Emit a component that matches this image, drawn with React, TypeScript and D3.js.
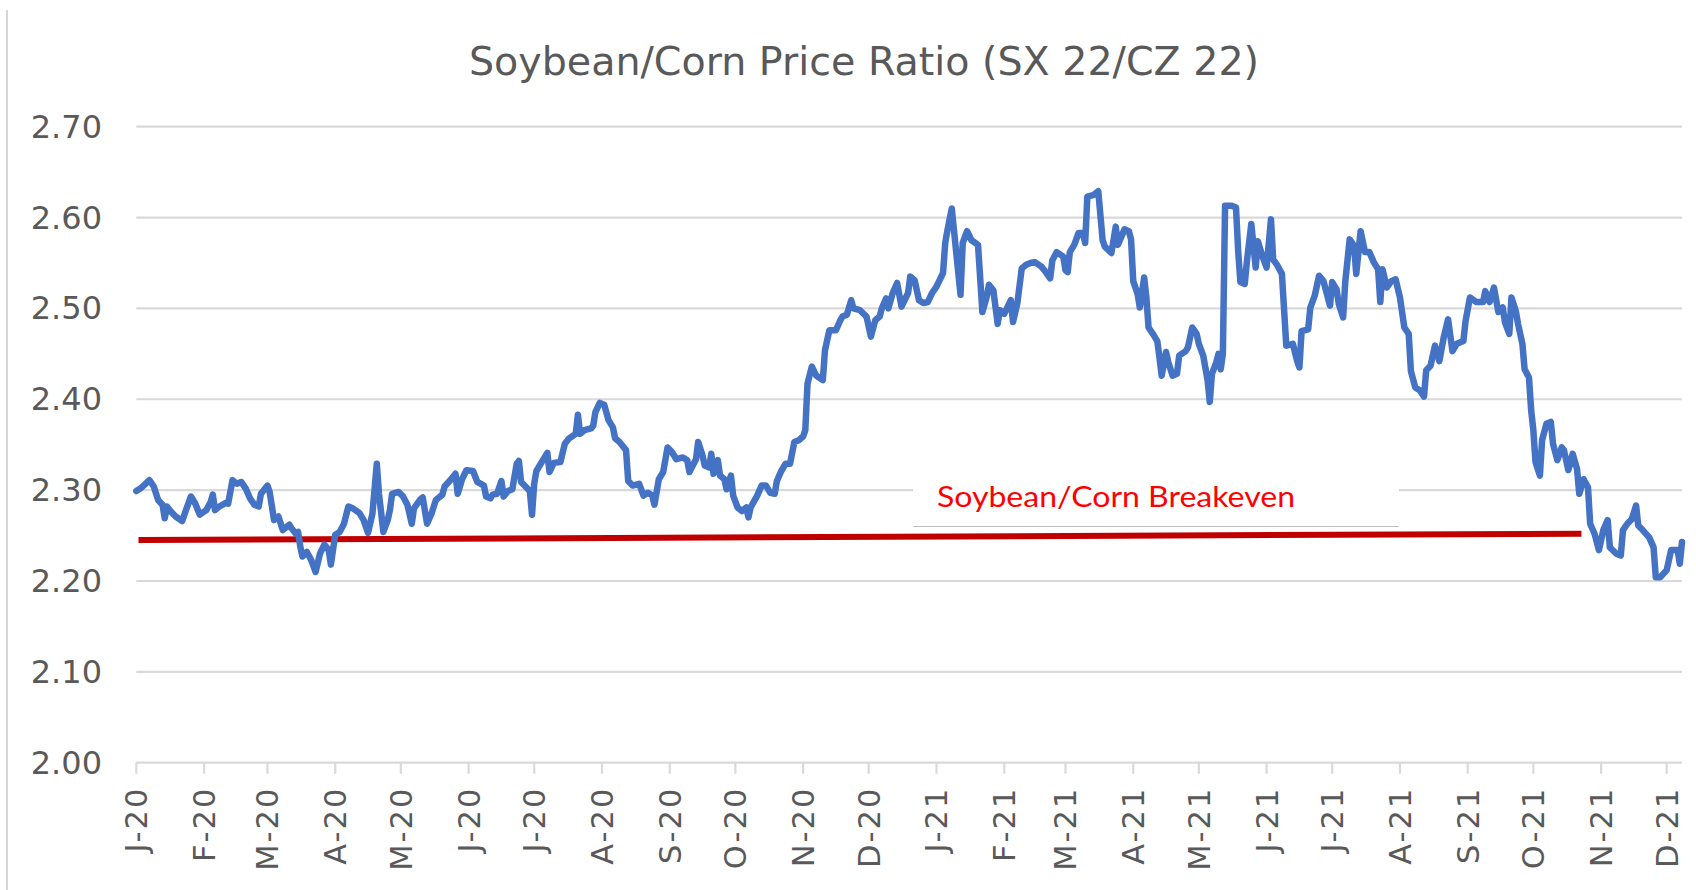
import * as React from "react";
import * as d3 from "d3";

// SX22 / CZ22 ratio
const ratioSeries: [string, number][] = [
  ["2020-01-01", 2.299], ["2020-01-03", 2.302], ["2020-01-07", 2.311], ["2020-01-09", 2.304],
  ["2020-01-11", 2.289], ["2020-01-13", 2.284], ["2020-01-14", 2.269], ["2020-01-15", 2.282],
  ["2020-01-17", 2.276], ["2020-01-19", 2.271], ["2020-01-22", 2.266], ["2020-01-24", 2.28],
  ["2020-01-26", 2.293], ["2020-01-28", 2.285], ["2020-01-30", 2.273], ["2020-02-02", 2.278],
  ["2020-02-04", 2.287], ["2020-02-05", 2.295], ["2020-02-06", 2.278], ["2020-02-08", 2.282],
  ["2020-02-11", 2.286], ["2020-02-12", 2.285], ["2020-02-14", 2.311], ["2020-02-16", 2.307],
  ["2020-02-18", 2.309], ["2020-02-20", 2.302], ["2020-02-22", 2.291], ["2020-02-24", 2.284],
  ["2020-02-26", 2.282], ["2020-02-27", 2.296], ["2020-03-01", 2.305], ["2020-03-02", 2.298],
  ["2020-03-04", 2.267], ["2020-03-06", 2.271], ["2020-03-08", 2.256], ["2020-03-11", 2.262],
  ["2020-03-12", 2.258], ["2020-03-14", 2.252], ["2020-03-15", 2.254], ["2020-03-16", 2.238],
  ["2020-03-17", 2.227], ["2020-03-19", 2.232], ["2020-03-21", 2.223], ["2020-03-23", 2.21],
  ["2020-03-25", 2.23], ["2020-03-27", 2.24], ["2020-03-29", 2.234], ["2020-03-30", 2.218],
  ["2020-04-01", 2.251], ["2020-04-03", 2.254], ["2020-04-05", 2.263], ["2020-04-07", 2.282],
  ["2020-04-09", 2.28], ["2020-04-12", 2.275], ["2020-04-14", 2.267], ["2020-04-16", 2.253],
  ["2020-04-18", 2.274], ["2020-04-20", 2.329], ["2020-04-21", 2.296], ["2020-04-23", 2.254],
  ["2020-04-25", 2.267], ["2020-04-26", 2.278], ["2020-04-27", 2.296], ["2020-04-30", 2.298],
  ["2020-05-02", 2.293], ["2020-05-04", 2.284], ["2020-05-06", 2.263], ["2020-05-07", 2.28],
  ["2020-05-10", 2.29], ["2020-05-11", 2.292], ["2020-05-13", 2.263], ["2020-05-15", 2.274],
  ["2020-05-17", 2.289], ["2020-05-20", 2.295], ["2020-05-21", 2.304], ["2020-05-24", 2.312],
  ["2020-05-26", 2.318], ["2020-05-27", 2.296], ["2020-05-29", 2.312], ["2020-05-31", 2.322],
  ["2020-06-03", 2.321], ["2020-06-05", 2.309], ["2020-06-08", 2.305], ["2020-06-09", 2.293],
  ["2020-06-11", 2.291], ["2020-06-12", 2.295], ["2020-06-14", 2.296], ["2020-06-16", 2.31],
  ["2020-06-17", 2.293], ["2020-06-19", 2.299], ["2020-06-21", 2.301], ["2020-06-23", 2.329],
  ["2020-06-24", 2.332], ["2020-06-25", 2.309], ["2020-06-27", 2.304], ["2020-06-29", 2.299],
  ["2020-06-30", 2.273], ["2020-07-01", 2.307], ["2020-07-02", 2.321], ["2020-07-04", 2.329],
  ["2020-07-07", 2.341], ["2020-07-08", 2.32], ["2020-07-10", 2.33], ["2020-07-13", 2.331],
  ["2020-07-15", 2.351], ["2020-07-17", 2.357], ["2020-07-20", 2.362], ["2020-07-21", 2.383],
  ["2020-07-22", 2.362], ["2020-07-24", 2.366], ["2020-07-27", 2.368], ["2020-07-28", 2.371],
  ["2020-07-29", 2.386], ["2020-07-31", 2.396], ["2020-08-02", 2.394], ["2020-08-04", 2.377],
  ["2020-08-06", 2.369], ["2020-08-07", 2.357], ["2020-08-09", 2.353], ["2020-08-12", 2.344],
  ["2020-08-13", 2.31], ["2020-08-15", 2.305], ["2020-08-18", 2.307], ["2020-08-20", 2.294],
  ["2020-08-22", 2.297], ["2020-08-24", 2.294], ["2020-08-25", 2.284], ["2020-08-27", 2.312],
  ["2020-08-29", 2.32], ["2020-08-31", 2.347], ["2020-09-02", 2.342], ["2020-09-04", 2.334],
  ["2020-09-07", 2.336], ["2020-09-09", 2.333], ["2020-09-10", 2.32], ["2020-09-13", 2.334],
  ["2020-09-14", 2.353], ["2020-09-16", 2.338], ["2020-09-17", 2.327], ["2020-09-19", 2.325],
  ["2020-09-20", 2.34], ["2020-09-21", 2.318], ["2020-09-23", 2.333], ["2020-09-24", 2.316],
  ["2020-09-26", 2.312], ["2020-09-27", 2.301], ["2020-09-29", 2.316], ["2020-09-30", 2.294],
  ["2020-10-02", 2.281], ["2020-10-04", 2.277], ["2020-10-06", 2.281], ["2020-10-07", 2.27],
  ["2020-10-08", 2.281], ["2020-10-11", 2.294], ["2020-10-13", 2.305], ["2020-10-15", 2.305],
  ["2020-10-17", 2.297], ["2020-10-19", 2.296], ["2020-10-20", 2.31], ["2020-10-22", 2.321],
  ["2020-10-24", 2.329], ["2020-10-26", 2.329], ["2020-10-28", 2.353], ["2020-10-30", 2.355],
  ["2020-11-01", 2.359], ["2020-11-02", 2.366], ["2020-11-03", 2.417], ["2020-11-05", 2.436],
  ["2020-11-07", 2.426], ["2020-11-10", 2.421], ["2020-11-11", 2.454], ["2020-11-13", 2.476],
  ["2020-11-16", 2.476], ["2020-11-18", 2.487], ["2020-11-19", 2.491], ["2020-11-21", 2.493],
  ["2020-11-23", 2.509], ["2020-11-24", 2.5], ["2020-11-27", 2.498], ["2020-11-30", 2.491],
  ["2020-12-02", 2.469], ["2020-12-04", 2.487], ["2020-12-06", 2.491], ["2020-12-07", 2.5],
  ["2020-12-09", 2.511], ["2020-12-10", 2.5], ["2020-12-12", 2.517], ["2020-12-14", 2.528],
  ["2020-12-16", 2.502], ["2020-12-19", 2.517], ["2020-12-20", 2.535], ["2020-12-22", 2.531],
  ["2020-12-24", 2.509], ["2020-12-26", 2.506], ["2020-12-28", 2.507], ["2020-12-30", 2.517],
  ["2021-01-01", 2.524], ["2021-01-04", 2.539], ["2021-01-05", 2.572], ["2021-01-06", 2.586],
  ["2021-01-08", 2.61], ["2021-01-09", 2.586], ["2021-01-12", 2.515], ["2021-01-13", 2.572],
  ["2021-01-15", 2.585], ["2021-01-17", 2.575], ["2021-01-20", 2.57], ["2021-01-22", 2.496],
  ["2021-01-24", 2.513], ["2021-01-25", 2.526], ["2021-01-27", 2.52], ["2021-01-29", 2.483],
  ["2021-01-30", 2.498], ["2021-02-01", 2.494], ["2021-02-04", 2.509], ["2021-02-05", 2.485],
  ["2021-02-07", 2.506], ["2021-02-09", 2.544], ["2021-02-11", 2.548], ["2021-02-13", 2.55],
  ["2021-02-15", 2.551], ["2021-02-18", 2.546], ["2021-02-20", 2.54], ["2021-02-22", 2.533],
  ["2021-02-23", 2.553], ["2021-02-25", 2.562], ["2021-02-28", 2.557], ["2021-03-01", 2.542],
  ["2021-03-02", 2.54], ["2021-03-03", 2.562], ["2021-03-05", 2.57], ["2021-03-07", 2.583],
  ["2021-03-09", 2.583], ["2021-03-10", 2.572], ["2021-03-11", 2.623], ["2021-03-14", 2.625],
  ["2021-03-16", 2.629], ["2021-03-18", 2.575], ["2021-03-19", 2.568], ["2021-03-22", 2.561],
  ["2021-03-24", 2.59], ["2021-03-25", 2.57], ["2021-03-28", 2.587], ["2021-03-30", 2.585],
  ["2021-03-31", 2.576], ["2021-04-01", 2.53], ["2021-04-03", 2.516], ["2021-04-04", 2.501],
  ["2021-04-06", 2.534], ["2021-04-07", 2.512], ["2021-04-08", 2.479], ["2021-04-10", 2.472],
  ["2021-04-12", 2.464], ["2021-04-13", 2.446], ["2021-04-14", 2.426], ["2021-04-16", 2.452],
  ["2021-04-17", 2.441], ["2021-04-19", 2.426], ["2021-04-21", 2.428], ["2021-04-22", 2.448],
  ["2021-04-25", 2.453], ["2021-04-26", 2.457], ["2021-04-28", 2.479], ["2021-04-30", 2.472],
  ["2021-05-01", 2.461], ["2021-05-03", 2.448], ["2021-05-05", 2.421], ["2021-05-06", 2.397],
  ["2021-05-07", 2.428], ["2021-05-09", 2.441], ["2021-05-10", 2.45], ["2021-05-11", 2.433],
  ["2021-05-12", 2.45], ["2021-05-13", 2.613], ["2021-05-16", 2.613], ["2021-05-18", 2.611],
  ["2021-05-19", 2.563], ["2021-05-20", 2.529], ["2021-05-22", 2.527], ["2021-05-23", 2.552],
  ["2021-05-25", 2.593], ["2021-05-27", 2.545], ["2021-05-28", 2.574], ["2021-05-30", 2.558],
  ["2021-06-01", 2.545], ["2021-06-03", 2.598], ["2021-06-04", 2.554], ["2021-06-06", 2.547],
  ["2021-06-08", 2.538], ["2021-06-10", 2.459], ["2021-06-13", 2.461], ["2021-06-15", 2.442],
  ["2021-06-16", 2.435], ["2021-06-17", 2.475], ["2021-06-20", 2.477], ["2021-06-21", 2.501],
  ["2021-06-23", 2.514], ["2021-06-25", 2.536], ["2021-06-27", 2.53], ["2021-06-30", 2.503],
  ["2021-07-01", 2.529], ["2021-07-03", 2.521], ["2021-07-04", 2.505], ["2021-07-06", 2.49],
  ["2021-07-07", 2.53], ["2021-07-09", 2.576], ["2021-07-11", 2.569], ["2021-07-12", 2.538],
  ["2021-07-14", 2.585], ["2021-07-16", 2.562], ["2021-07-18", 2.562], ["2021-07-20", 2.551],
  ["2021-07-22", 2.543], ["2021-07-23", 2.507], ["2021-07-24", 2.543], ["2021-07-26", 2.523],
  ["2021-07-28", 2.53], ["2021-07-30", 2.532], ["2021-08-01", 2.512], ["2021-08-03", 2.479],
  ["2021-08-05", 2.472], ["2021-08-06", 2.431], ["2021-08-08", 2.413], ["2021-08-10", 2.41],
  ["2021-08-12", 2.403], ["2021-08-13", 2.432], ["2021-08-15", 2.437], ["2021-08-17", 2.459],
  ["2021-08-19", 2.442], ["2021-08-21", 2.468], ["2021-08-23", 2.488], ["2021-08-25", 2.453],
  ["2021-08-27", 2.461], ["2021-08-30", 2.464], ["2021-08-31", 2.486], ["2021-09-02", 2.512],
  ["2021-09-05", 2.507], ["2021-09-08", 2.507], ["2021-09-09", 2.519], ["2021-09-11", 2.507],
  ["2021-09-13", 2.523], ["2021-09-15", 2.496], ["2021-09-17", 2.501], ["2021-09-18", 2.485],
  ["2021-09-20", 2.472], ["2021-09-21", 2.512], ["2021-09-23", 2.497], ["2021-09-24", 2.483],
  ["2021-09-26", 2.461], ["2021-09-27", 2.433], ["2021-09-29", 2.424], ["2021-09-30", 2.388],
  ["2021-10-01", 2.366], ["2021-10-02", 2.331], ["2021-10-04", 2.316], ["2021-10-05", 2.355],
  ["2021-10-07", 2.373], ["2021-10-09", 2.375], ["2021-10-10", 2.351], ["2021-10-12", 2.333],
  ["2021-10-14", 2.347], ["2021-10-15", 2.344], ["2021-10-17", 2.322], ["2021-10-19", 2.34],
  ["2021-10-21", 2.323], ["2021-10-22", 2.296], ["2021-10-24", 2.312], ["2021-10-26", 2.303],
  ["2021-10-27", 2.263], ["2021-10-29", 2.252], ["2021-10-31", 2.234], ["2021-11-02", 2.256],
  ["2021-11-04", 2.267], ["2021-11-05", 2.237], ["2021-11-08", 2.23], ["2021-11-10", 2.228],
  ["2021-11-11", 2.256], ["2021-11-13", 2.263], ["2021-11-15", 2.268], ["2021-11-17", 2.283],
  ["2021-11-18", 2.261], ["2021-11-20", 2.256], ["2021-11-23", 2.248], ["2021-11-25", 2.237],
  ["2021-11-26", 2.204], ["2021-11-28", 2.204], ["2021-12-01", 2.212], ["2021-12-03", 2.234],
  ["2021-12-06", 2.234], ["2021-12-07", 2.219], ["2021-12-08", 2.243],
];

const breakevenSeries: [string, number][] = [
  ["2020-01-02", 2.245],
  ["2021-10-23", 2.252],
];

const dateDomain = ["2020-01-01", "2021-12-08"];
const yTicks = [2.0, 2.1, 2.2, 2.3, 2.4, 2.5, 2.6, 2.7];
const chartTitle = "Soybean/Corn Price Ratio (SX 22/CZ 22)";
const breakevenLabel = "Soybean/Corn Breakeven";

const W = 1696;
const H = 890;
const margin = { top: 126.7, right: 14, bottom: 127.3, left: 136.3 };

const App: React.FunctionComponent = () => {
  const ref = React.useRef<SVGSVGElement>(null);

  React.useEffect(() => {
    const parse = d3.utcParse("%Y-%m-%d");
    const svg = d3.select(ref.current);
    svg.selectAll("*").remove();

    const x = d3
      .scaleUtc()
      .domain(dateDomain.map(d => parse(d) as Date))
      .range([margin.left, W - margin.right]);
    const y = d3
      .scaleLinear()
      .domain([2.0, 2.7])
      .range([H - margin.bottom, margin.top]);

    svg.append("rect").attr("width", W).attr("height", H).attr("fill", "#fff");

    // left frame edge
    svg
      .append("line")
      .attr("x1", 7)
      .attr("x2", 7)
      .attr("y1", 10)
      .attr("y2", H)
      .attr("stroke", "#c8c8c8")
      .attr("stroke-width", 1.5);

    svg
      .append("text")
      .attr("x", 469)
      .attr("y", 75)
      .attr("textLength", 790)
      .attr("lengthAdjust", "spacingAndGlyphs")
      .attr("font-family", "'DejaVu Sans', sans-serif")
      .attr("font-size", 39.5)
      .attr("fill", "#595959")
      .text(chartTitle);

    // gridlines + y labels
    const yAxis = svg.append("g");
    yAxis
      .selectAll("line")
      .data(yTicks)
      .enter()
      .append("line")
      .attr("x1", margin.left)
      .attr("x2", W - margin.right)
      .attr("y1", d => y(d))
      .attr("y2", d => y(d))
      .attr("stroke", "#d9d9d9")
      .attr("stroke-width", 2.2);
    yAxis
      .selectAll("text")
      .data(yTicks)
      .enter()
      .append("text")
      .attr("x", 102)
      .attr("y", d => y(d) + 11)
      .attr("text-anchor", "end")
      .attr("font-family", "'DejaVu Sans', sans-serif")
      .attr("font-size", 32)
      .attr("fill", "#595959")
      .text(d => d3.format(".2f")(d));

    // monthly ticks on x
    const months = x.ticks(d3.utcMonth.every(1) as any);
    const fmtM = d3.utcFormat("%b");
    const fmtY = d3.utcFormat("%y");
    const xAxis = svg.append("g");
    xAxis
      .selectAll("line")
      .data(months)
      .enter()
      .append("line")
      .attr("x1", d => x(d))
      .attr("x2", d => x(d))
      .attr("y1", y(2.0))
      .attr("y2", y(2.0) + 11)
      .attr("stroke", "#d9d9d9")
      .attr("stroke-width", 2.2);
    xAxis
      .selectAll("text")
      .data(months)
      .enter()
      .append("text")
      .attr("transform", d => `translate(${x(d)},${y(2.0) + 24}) rotate(-90)`)
      .attr("text-anchor", "end")
      .attr("dy", "0.36em")
      .attr("font-family", "'DejaVu Sans', sans-serif")
      .attr("font-size", 30.5)
      .attr("letter-spacing", 2)
      .attr("fill", "#595959")
      .text(d => `${fmtM(d)[0]}-${fmtY(d)}`);

    // label box (hides the gridline behind it)
    svg
      .append("rect")
      .attr("x", 913)
      .attr("y", 468)
      .attr("width", 486)
      .attr("height", 58)
      .attr("fill", "#fff");
    svg
      .append("line")
      .attr("x1", 913)
      .attr("x2", 1399)
      .attr("y1", 526.5)
      .attr("y2", 526.5)
      .attr("stroke", "#bfbfbf")
      .attr("stroke-width", 1);
    svg
      .append("text")
      .attr("x", 937)
      .attr("y", 507)
      .attr("textLength", 358)
      .attr("lengthAdjust", "spacingAndGlyphs")
      .attr("font-family", "Lato, 'Liberation Sans', sans-serif")
      .attr("font-size", 29)
      .attr("fill", "#ff0000")
      .text(breakevenLabel);

    const line = d3
      .line<[string, number]>()
      .x(d => x(parse(d[0]) as Date))
      .y(d => y(d[1]));

    svg
      .append("path")
      .datum(breakevenSeries)
      .attr("d", line)
      .attr("fill", "none")
      .attr("stroke", "#c00000")
      .attr("stroke-width", 6);

    svg
      .append("path")
      .datum(ratioSeries)
      .attr("d", line)
      .attr("fill", "none")
      .attr("stroke", "#4472c4")
      .attr("stroke-width", 6.5)
      .attr("stroke-linejoin", "round")
      .attr("stroke-linecap", "round");
  }, []);

  return (
    <div style={{ position: "absolute", left: 0, top: 0 }}>
      <svg ref={ref} width={W} height={H} style={{ display: "block" }} />
    </div>
  );
};

export default App;
